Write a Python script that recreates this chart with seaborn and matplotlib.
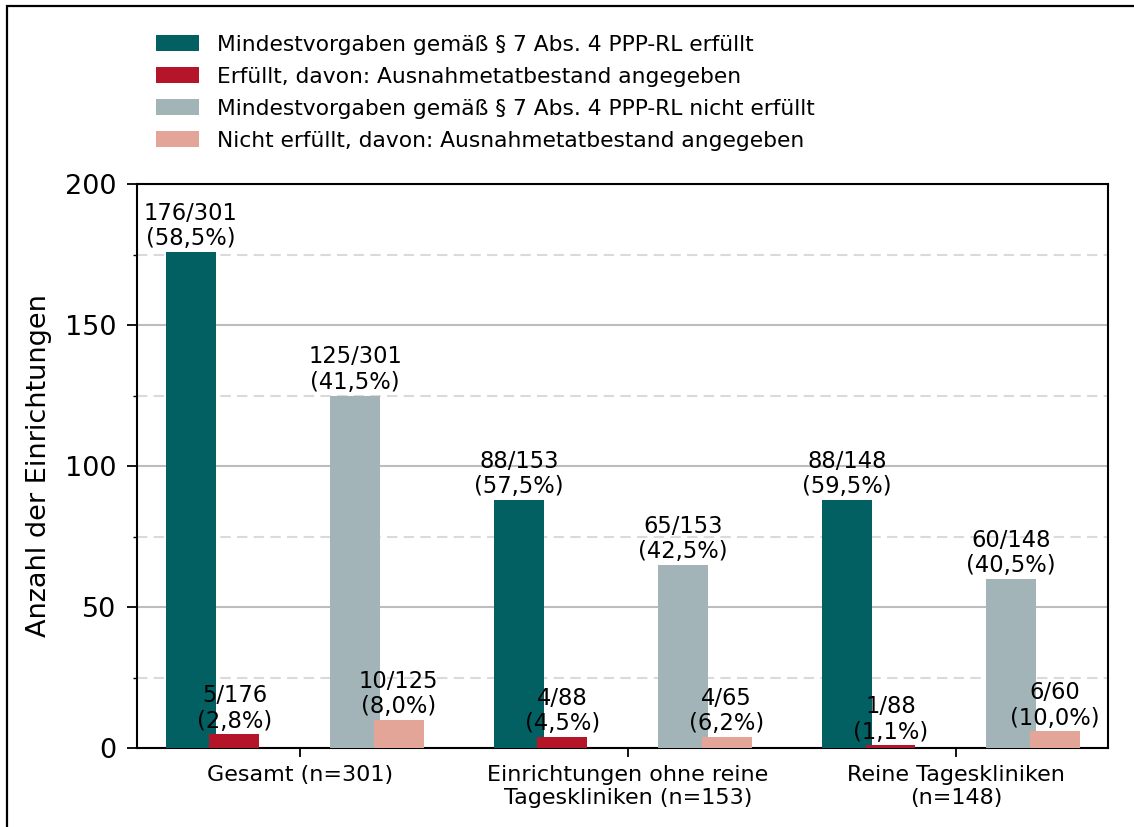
import numpy as np
import seaborn as sns
import matplotlib
matplotlib.use("Agg")
import matplotlib.pyplot as plt
from matplotlib.patches import Patch, Rectangle
from matplotlib.ticker import MultipleLocator

gruppen = ["Gesamt (n=301)",
           "Einrichtungen ohne reine\nTageskliniken (n=153)",
           "Reine Tageskliniken\n(n=148)"]
gesamt_n = [301, 153, 148]
erfuellt = [176, 88, 88]
erfuellt_ausnahme = [5, 4, 1]
nicht_erfuellt = [125, 65, 60]
nicht_erfuellt_ausnahme = [10, 4, 6]

legende = ["Mindestvorgaben gemäß § 7 Abs. 4 PPP-RL erfüllt",
           "Erfüllt, davon: Ausnahmetatbestand angegeben",
           "Mindestvorgaben gemäß § 7 Abs. 4 PPP-RL nicht erfüllt",
           "Nicht erfüllt, davon: Ausnahmetatbestand angegeben"]
farben = ["#026062", "#B51529", "#A2B4B7", "#E2A598"]

sns.set_style("white")
plt.rcParams["font.family"] = ["DejaVu Sans"]
plt.rcParams.update({"text.color": "black", "axes.labelcolor": "black",
                     "xtick.color": "black", "ytick.color": "black"})

fig = plt.figure(figsize=(11.34, 8.27), dpi=100)
ax = fig.add_axes([0.1208, 0.0955, 0.8562, 0.682])

x = np.arange(len(gruppen))
# (werte, bezugsgroessen, versatz)
serien = [
    (erfuellt, gesamt_n, -0.333),
    (erfuellt_ausnahme, erfuellt, -0.2),
    (nicht_erfuellt, gesamt_n, 0.168),
    (nicht_erfuellt_ausnahme, nicht_erfuellt, 0.301),
]
breite = 0.152

for (werte, basis, off), farbe in zip(serien, farben):
    pos = x + off
    sns.barplot(x=pos, y=werte, native_scale=True, width=breite,
                color=farbe, saturation=1, linewidth=0, ax=ax, zorder=3)
    for p, w, b in zip(pos, werte, basis):
        pct = f"{w / b * 100:.1f}".replace(".", ",")
        ax.annotate(f"{w}/{b}\n({pct}%)", (p, w), xytext=(0, 1),
                    textcoords="offset points", ha="center", va="bottom",
                    fontsize=16.3, linespacing=1.15, zorder=4)

ax.set_xlim(-0.497, 2.463)
ax.set_ylim(0, 200)
ax.set_xticks(x)
ax.set_xticklabels(gruppen, fontsize=16, linespacing=1.17)
ax.yaxis.set_major_locator(MultipleLocator(50))
ax.yaxis.set_minor_locator(MultipleLocator(25))
ax.tick_params(axis="y", which="major", labelsize=19.5, length=7, width=1.3,
               pad=8, direction="out", left=True)
ax.tick_params(axis="y", which="minor", length=3, width=1, left=True)
ax.tick_params(axis="x", which="major", length=6.5, width=1.3, pad=6,
               direction="out", bottom=True)
ax.set_ylabel("Anzahl der Einrichtungen", fontsize=19.5, labelpad=9)
ax.set_xlabel("")

ax.grid(axis="y", which="major", color="#BDBDBD", linewidth=1.5, linestyle="-", zorder=0)
ax.grid(axis="y", which="minor", color="#DADADA", linewidth=1.5, linestyle=(0, (5, 3)), zorder=0)
ax.set_axisbelow(True)
for s in ax.spines.values():
    s.set_color("black")
    s.set_linewidth(1.5)

handles = [Patch(facecolor=f, edgecolor="none") for f in farben]
fig.legend(handles, legende, loc="upper left", bbox_to_anchor=(0.120, 0.9815),
           frameon=False, fontsize=15.7, handlelength=2.0, handleheight=0.73,
           handletextpad=0.83, labelspacing=0.55)

fig.patches.append(Rectangle((0.0066, -0.1), 1.5, 1.0933, transform=fig.transFigure,
                             fill=False, edgecolor="black", linewidth=1.6, zorder=10))

fig.savefig("out.png", dpi=100)
